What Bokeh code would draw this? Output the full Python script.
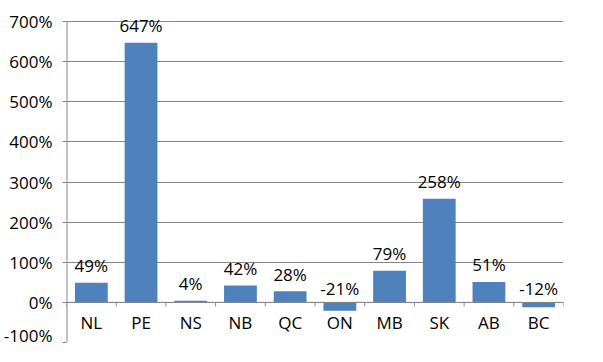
from bokeh.plotting import figure
from bokeh.models import ColumnDataSource, FixedTicker, PrintfTickFormatter, Span
from bokeh.core.properties import value
from bokeh.embed import file_html
from bokeh.resources import INLINE

provinces = ["NL", "PE", "NS", "NB", "QC", "ON", "MB", "SK", "AB", "BC"]
changes = [49, 647, 4, 42, 28, -21, 79, 258, 51, -12]
y_ticks = [-100, 0, 100, 200, 300, 400, 500, 600, 700]

FONT = "Open Sans"
GRID = "#868686"
BAR = "#4F81BD"
FS = "17px"

xs = list(range(len(provinces)))
src = ColumnDataSource(dict(
    x=xs,
    v=changes,
    lab=[f"{v}%" for v in changes],
    ly=[max(v, 0) for v in changes],
    loff=[-17 if v >= 0 else -14 for v in changes],
))

x_lo, x_hi = -0.5, len(provinces) - 0.5
y_lo, y_hi = y_ticks[0], y_ticks[-1]
headroom = 20  # extra range above top tick so labels are not clipped

p = figure(width=587, height=346, output_backend="svg", toolbar_location=None,
           x_range=(x_lo, x_hi), y_range=(y_lo, y_hi + headroom),
           min_border_left=60, min_border_right=24, min_border_top=13, min_border_bottom=4)
p.outline_line_color = None
p.background_fill_color = "white"
p.border_fill_color = "white"

p.xaxis.visible = False
p.xgrid.visible = False

yax = p.yaxis[0]
yax.ticker = FixedTicker(ticks=y_ticks)
yax.formatter = PrintfTickFormatter(format="%d%%")
yax.axis_line_color = None
yax.major_tick_line_color = GRID
yax.major_tick_out = 4
yax.major_tick_in = 0
yax.minor_tick_line_color = None
yax.major_label_standoff = 10
yax.major_label_text_font = FONT
yax.major_label_text_font_size = FS
yax.major_label_text_color = "black"

p.ygrid.ticker = FixedTicker(ticks=y_ticks)
p.ygrid.grid_line_color = GRID
p.ygrid.grid_line_width = 1

p.vbar(x="x", top="v", bottom=0, width=0.66, source=src, fill_color=BAR, line_color=None)

# value axis line, from bottom tick to top tick
p.segment(x0=[x_lo], x1=[x_lo], y0=[y_lo], y1=[y_hi], line_color=GRID, line_width=2)

# category axis at zero
p.add_layout(Span(location=0, dimension="width", line_color=GRID, line_width=1))
bounds = [i - 0.5 for i in range(len(provinces) + 1)]
p.segment(x0=bounds, x1=bounds, y0=[0] * len(bounds), y1=[-10] * len(bounds),
          line_color=GRID, line_width=1)
p.text(x=xs, y=[0] * len(xs), text=provinces, y_offset=20,
       text_align="center", text_baseline="middle",
       text_font=value(FONT), text_font_size=FS, text_color="black")

p.text(x="x", y="ly", text="lab", y_offset="loff", source=src,
       text_align="center", text_baseline="middle",
       text_font=value(FONT), text_font_size=FS, text_color="black")

open("out.html", "w").write(file_html(p, INLINE))
